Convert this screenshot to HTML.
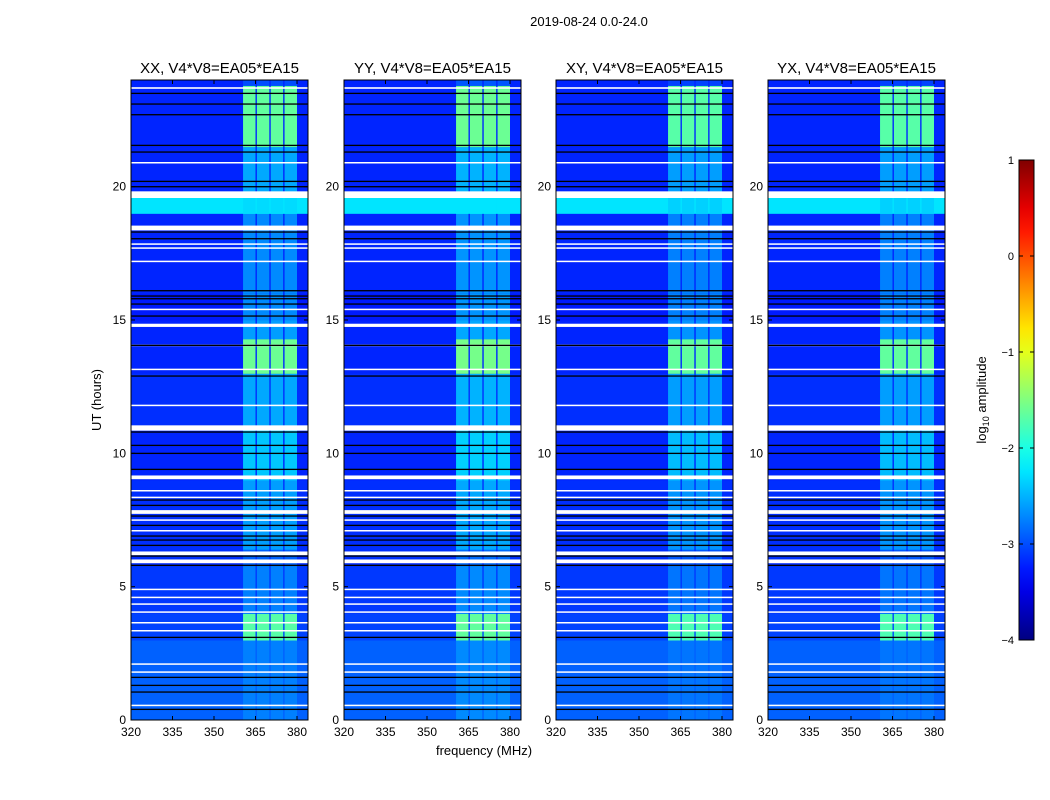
<!DOCTYPE html>
<html><head><meta charset="utf-8"><style>
body{margin:0;background:#fff;}
svg{display:block;font-family:"Liberation Sans",sans-serif;}
</style></head><body>
<svg id="fig" width="1050" height="800" xmlns="http://www.w3.org/2000/svg">
<rect width="1050" height="800" fill="#fff"/>
<text x="589" y="26" font-size="13" text-anchor="middle">2019-08-24 0.0-24.0</text>
<text transform="translate(101,400) rotate(-90)" font-size="13" text-anchor="middle">UT (hours)</text>
<text x="484" y="755" font-size="13" text-anchor="middle">frequency (MHz)</text>
<g id="panels"></g>
<g id="cbar"></g>
</svg>
<script>
// ---- data ----
const panelTitles = ["XX, V4*V8=EA05*EA15","YY, V4*V8=EA05*EA15","XY, V4*V8=EA05*EA15","YX, V4*V8=EA05*EA15"];
const xTicks = [320,335,350,365,380];
const yTicks = [0,5,10,15,20];
const cbarTicks = [1,0,-1,-2,-3,-4];
const segStart = [0,   3,   4,   5.8, 6.4, 9,   11,  13,  14.3, 15,  16,  19,  19.7, 21.5, 23.8];
const segEnd   = [3,   4,   5.8, 6.4, 9,   11,  13,  14.3, 15,   16,  19,  19.7, 21.5, 23.8, 24];
const segBg    = [-2.9,-3.05,-3.1,-3.15,-3.15,-3.2,-3.15,-3.2,-3.2,-3.25,-3.2,-2.25,-3.2,-3.2,-3.2];
const segBand  = [-2.75,-1.7,-2.75,-2.9,-2.6,-2.4,-2.55,-1.6,-2.6,-2.7,-2.7,-2.3,-2.55,-1.65,-3.0];
const subLo = [360.5,365.5,370.5,375.5];
const subHi = [365.0,370.0,375.0,380.0];
const panelBoost = [0, 0.05, -0.05, -0.05];
const whiteH = [23.7,20.9,19.7,18.45,17.85,17.7,17.2,15.4,14.8,14.05,13.15,11.8,10.95,9.1,8.6,8.35,7.8,7.5,7.1,6.25,5.95,4.9,4.6,4.35,4.05,3.65,3.35,2.1,1.8,0.55];
const whiteW = [0.06,0.05,0.25,0.18,0.05,0.05,0.05,0.05,0.12,0.05,0.05,0.05,0.2,0.14,0.05,0.05,0.14,0.05,0.05,0.14,0.14,0.05,0.05,0.05,0.05,0.05,0.05,0.05,0.05,0.05];
const blackH = [23.5,23.1,22.7,21.55,21.3,20.2,20.0,18.3,18.05,16.1,15.9,15.8,15.6,15.15,14.05,12.9,10.8,10.3,10.0,9.4,8.25,8.05,7.65,7.3,6.9,6.75,6.55,6.15,5.8,3.1,1.6,1.3,1.05,0.4];

// ---- scales ----
const panelX = [131,344,556,768];
const PW = 177, Y0 = 720, Y1 = 80;
const pxPerMHz = 41.5/15;
const fx = (x0,f)=> x0 + (f-320)*pxPerMHz;
const ty = h => Y0 - (h/24)*(Y0-Y1);
function jet(v){
  let t=(v+4)/5; t=Math.max(0,Math.min(1,t));
  const c=x=>Math.round(255*Math.max(0,Math.min(1,x)));
  const r=c(1.5-Math.abs(4*t-3)), g=c(1.5-Math.abs(4*t-2)), b=c(1.5-Math.abs(4*t-1));
  return `rgb(${r},${g},${b})`;
}
const NS="http://www.w3.org/2000/svg";
function mk(tag,attrs,parent){const e=document.createElementNS(NS,tag);for(const k in attrs)e.setAttribute(k,attrs[k]);parent.appendChild(e);return e;}

const root=document.getElementById('panels');
panelX.forEach((x0,p)=>{
  const g=mk('g',{},root);
  
  
  const clipId='clip'+p;
  const cp=mk('clipPath',{id:clipId},g); mk('rect',{x:x0,y:Y1,width:PW,height:Y0-Y1},cp);
  const hm=mk('g',{'clip-path':`url(#${clipId})`},g);
  
  
  for(let i=0;i<segStart.length;i++){
    const y=ty(segEnd[i]), h=ty(segStart[i])-y;
    const r=mk('rect',{x:x0,y:y,width:PW,height:h+0.5,fill:jet(segBg[i])},hm);
    
    
    for(let s=0;s<subLo.length;s++){
      let v=segBand[i]+panelBoost[p];
      const b=mk('rect',{x:fx(x0,subLo[s]),y:y,width:fx(x0,subHi[s])-fx(x0,subLo[s]),height:h+0.5,fill:jet(v)},hm);
      
      
    }
  }
  whiteH.forEach((hh,k)=>{
    const y=ty(hh+whiteW[k]/2);
    const l=mk('rect',{x:x0,y:y,width:PW,height:Math.max(1.5,ty(hh-whiteW[k]/2)-y),fill:'#fff'},hm);
    
    
  });
  blackH.forEach(hh=>{
    const l=mk('rect',{x:x0,y:ty(hh)-0.6,width:PW,height:1.3,fill:'#000'},hm);
    
    
  });
  const fr=mk('rect',{x:x0,y:Y1,width:PW,height:Y0-Y1,fill:'none',stroke:'#000','stroke-width':1},g);
  
  
  const t=mk('text',{x:x0+PW/2,y:73,'font-size':15,'text-anchor':'middle'},g);
  t.textContent=panelTitles[p];
  
  
  xTicks.forEach(v=>{
    const x=fx(x0,v);
    mk('line',{x1:x,x2:x,y1:Y0,y2:Y0-4,stroke:'#000'},g);
    mk('line',{x1:x,x2:x,y1:Y1,y2:Y1+4,stroke:'#000'},g);
    const tl=mk('text',{x:x,y:Y0+16,'font-size':12,'text-anchor':'middle'},g);
    tl.textContent=v;
    
    
  });
  yTicks.forEach(v=>{
    const y=ty(v);
    mk('line',{x1:x0,x2:x0+4,y1:y,y2:y,stroke:'#000'},g);
    mk('line',{x1:x0+PW,x2:x0+PW-4,y1:y,y2:y,stroke:'#000'},g);
    const tl=mk('text',{x:x0-5,y:y+4,'font-size':12,'text-anchor':'end'},g);
    tl.textContent=v;
    
    
  });
});

// colorbar
const cb=document.getElementById('cbar');
const CX=1019,CW=15,CT=160,CB=640;
const defs=mk('defs',{},cb);
const lg=mk('linearGradient',{id:'jetg',x1:0,y1:1,x2:0,y2:0},defs);
for(let i=0;i<=20;i++){mk('stop',{offset:i/20,'stop-color':jet(-4+5*i/20)},lg);}
mk('rect',{x:CX,y:CT,width:CW,height:CB-CT,fill:'url(#jetg)',stroke:'#000'},cb);
cbarTicks.forEach(v=>{
  const y=CB-(v+4)/5*(CB-CT);
  mk('line',{x1:CX,x2:CX+4,y1:y,y2:y,stroke:'#000'},cb);
  mk('line',{x1:CX+CW,x2:CX+CW-4,y1:y,y2:y,stroke:'#000'},cb);
  const tl=mk('text',{x:CX-5,y:y+4,'font-size':11,'text-anchor':'end'},cb);
  tl.textContent=(v<0?'\u2212'+(-v):v);
  
  
});
const cl=mk('text',{transform:'translate(986,400) rotate(-90)','font-size':13,'text-anchor':'middle'},cb);
cl.innerHTML='log<tspan font-size="9" dy="3">10</tspan><tspan dy="-3"> amplitude</tspan>';


</script>
</body></html>
